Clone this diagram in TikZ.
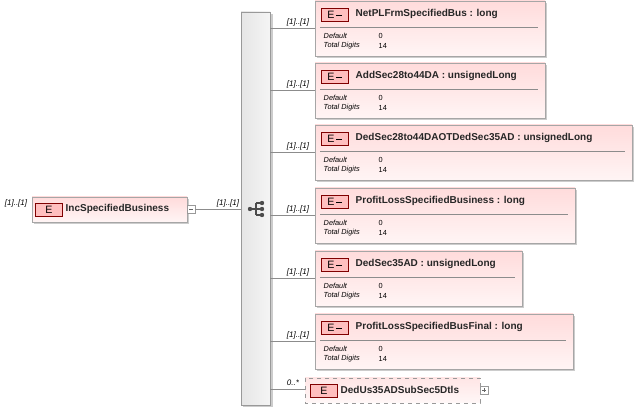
\documentclass[tikz,border=0pt]{standalone}
\usepackage{fontspec}
\setmainfont{Liberation Sans}
\begin{document}
\begin{tikzpicture}[x=0.75pt,y=-0.75pt,
 el/.style={draw=black!35,top color=red!14,bottom color=red!4},
 ico/.style={draw=red!50!black,fill=red!25,minimum width=20pt,minimum height=10pt,inner sep=0pt,font=\fontsize{8}{8}\selectfont},
 ttl/.style={font=\bfseries\fontsize{7.5}{9}\selectfont,anchor=west,text=black!85},
 sm/.style={font=\itshape\fontsize{5.5}{6}\selectfont,anchor=west},
 lb/.style={font=\itshape\fontsize{6}{7}\selectfont},
 ln/.style={draw=black!45}]
\useasboundingbox (0,0) rectangle (637,410);
% sequence bar
\fill[black!20] (243,14) rectangle (273,407);
\node[draw=black!40,left color=black!10,right color=black!4,minimum width=21.75pt,minimum height=294.75pt,inner sep=0pt] (seq) at (255.5,208.5) {};
\fill[black!70] (250,209) circle (2.2) (262,203) circle (2.2) (262,209) circle (2.2) (262,215) circle (2.2);
\draw[black!70,line width=0.8pt] (250,209) -- (256,209) (256,203) -- (256,215) (256,203) -- (262,203) (256,209)--(262,209) (256,215)--(262,215);
% root
\fill[black!20] (34,199) rectangle (189,224);
\node[el,minimum width=116.25pt,minimum height=18.75pt,inner sep=0pt] (root) at (109.5,209.5) {};
\node[ico] (rico) at (49,209.5) {E};
\node[ttl] (rt) at (61,209) {IncSpecifiedBusiness};
\node[draw=black!40,fill=white,minimum size=6pt,inner sep=0pt] (rm) at (191,209.5) {};
\draw[black!60] (189,209.5)--(193,209.5);
\node[lb] (l0) at (16,203) {[1]..[1]};
\draw[ln] (rm.east) -- (seq.west|-rm);
\node[lb] (l1) at (228,203) {[1]..[1]};
% children
\foreach \n/\y/\w/\t in {a/0/545/{NetPLFrmSpecifiedBus : long},b/62/545/{AddSec28to44DA : unsignedLong},c/124/632/{DedSec28to44DAOTDedSec35AD : unsignedLong},d/187/575/{ProfitLossSpecifiedBusiness : long},e/250/522/{DedSec35AD : unsignedLong},f/313/573/{ProfitLossSpecifiedBusFinal : long}}{
 \fill[black!20] (317,\y+3) rectangle (\w+2,\y+58);
 \path[el] (315,\y+1) rectangle (\w,\y+56);
 \node[ico] (i\n) at (334.5,\y+15) {E\,\rule[2.2pt]{4pt}{0.9pt}};
 \node[ttl] (t\n) at (351,\y+14) {\t};
 \draw[black!45] (320,\y+27) -- (\w-7,\y+27);
 \node[sm] at (319,\y+35.5) {Default};
 \node[sm] at (319,\y+45.5) {Total Digits};
 \node[font=\fontsize{5.5}{6}\selectfont,anchor=west] at (374,\y+35.5) {0};
 \node[font=\fontsize{5.5}{6}\selectfont,anchor=west] at (374,\y+45.5) {14};
 \coordinate (c\n) at (315,\y+28);
 \draw[ln] (seq.east|-c\n) -- (c\n);
 \node[lb] at (298,\y+22) {[1]..[1]};
}
% last
\path[el,draw=black!40,dashed,top color=red!10,bottom color=red!3] (305,378) rectangle (480,403);
\node[ico] (ig) at (324,390.5) {E};
\node[ttl] (tg) at (336,390) {DedUs35ADSubSec5Dtls};
\node[draw=black!40,fill=white,minimum size=6pt,inner sep=0pt] (gp) at (484,390.5) {};
\draw[black!60] (482,390.5)--(486,390.5) (484,388.5)--(484,392.5);
\coordinate (cg) at (305,389);
\draw[ln] (seq.east|-cg) -- (cg);
\node[lb] at (293,383) {0..*};
\end{tikzpicture}
\end{document}
